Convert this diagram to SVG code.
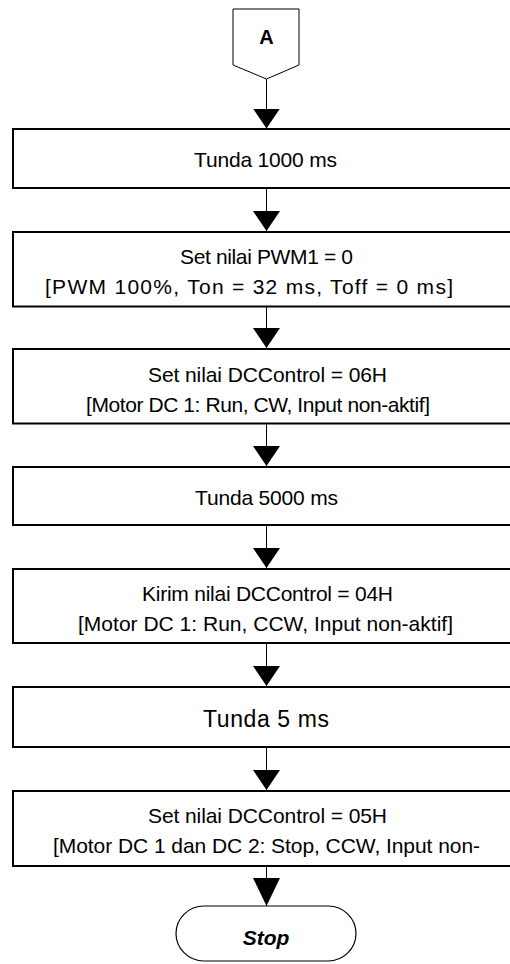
<svg xmlns="http://www.w3.org/2000/svg" width="510" height="964" viewBox="0 0 510 964">
<style>
  .box { fill: #ffffff; stroke: #000000; stroke-width: 2; }
  .term { fill: #ffffff; stroke: #000000; stroke-width: 1.2; }
  .t { font-family: "Liberation Sans", Arial, sans-serif; font-size: 21px; fill: #000000; text-anchor: middle; }
  .big { font-size: 23px; }
  .bold { font-weight: bold; }
  .edge { stroke: #000000; stroke-width: 1; fill: none; }
</style>
<defs>
  <marker id="arr" markerUnits="userSpaceOnUse" viewBox="0 0 20 27" markerWidth="20" markerHeight="27" refX="20" refY="13.5" orient="auto">
    <path d="M0,0 L20,13.5 L0,27 z" fill="#000000"/>
  </marker>
  <marker id="arrL" markerUnits="userSpaceOnUse" viewBox="0 0 28 27" markerWidth="28" markerHeight="27" refX="28" refY="13.5" orient="auto">
    <path d="M0,0 L28,13.5 L0,27 z" fill="#000000"/>
  </marker>
</defs>

<g id="connectors">
  <line class="edge" x1="266.5" y1="79" x2="266.5" y2="128.5" marker-end="url(#arr)"/>
  <line class="edge" x1="266.5" y1="188" x2="266.5" y2="231" marker-end="url(#arr)"/>
  <line class="edge" x1="266.5" y1="306.5" x2="266.5" y2="348" marker-end="url(#arr)"/>
  <line class="edge" x1="266.5" y1="423.5" x2="266.5" y2="466" marker-end="url(#arr)"/>
  <line class="edge" x1="266.5" y1="525" x2="266.5" y2="568" marker-end="url(#arr)"/>
  <line class="edge" x1="266.5" y1="643" x2="266.5" y2="686" marker-end="url(#arr)"/>
  <line class="edge" x1="266.5" y1="747" x2="266.5" y2="790" marker-end="url(#arr)"/>
  <line class="edge" x1="266.5" y1="866" x2="266.5" y2="906" marker-end="url(#arrL)"/>
</g>

<g id="nodeA">
  <polygon points="233,9 299,9 299,65 266.5,79 233,65" fill="#ffffff" stroke="#000000" stroke-width="1"/>
  <text class="t bold" x="266.5" y="43.5" style="font-size:20px">A</text>
</g>

<g id="node1">
  <rect class="box" x="13" y="129" width="507" height="59"/>
  <text class="t" x="265.5" y="167" textLength="143" lengthAdjust="spacing">Tunda 1000 ms</text>
</g>

<g id="node2">
  <rect class="box" x="13" y="232" width="507" height="74.5"/>
  <text class="t" x="266.5" y="264" textLength="173" lengthAdjust="spacing">Set nilai PWM1 = 0</text>
  <text class="t" x="249" y="294" textLength="408" lengthAdjust="spacing">[PWM 100%, Ton = 32 ms, Toff = 0 ms]</text>
</g>

<g id="node3">
  <rect class="box" x="13" y="349" width="507" height="74.5"/>
  <text class="t" x="267.5" y="382" textLength="239" lengthAdjust="spacing">Set nilai DCControl = 06H</text>
  <text class="t" x="258" y="412" textLength="344" lengthAdjust="spacing">[Motor DC 1: Run, CW, Input non-aktif]</text>
</g>

<g id="node4">
  <rect class="box" x="13" y="467" width="507" height="58"/>
  <text class="t" x="266.5" y="505" textLength="143" lengthAdjust="spacing">Tunda 5000 ms</text>
</g>

<g id="node5">
  <rect class="box" x="13" y="569" width="507" height="74"/>
  <text class="t" x="267.5" y="601" textLength="251" lengthAdjust="spacing">Kirim nilai DCControl = 04H</text>
  <text class="t" x="265.5" y="631" textLength="375" lengthAdjust="spacing">[Motor DC 1: Run, CCW, Input non-aktif]</text>
</g>

<g id="node6">
  <rect class="box" x="13" y="687" width="507" height="60"/>
  <text class="t big" x="266" y="727" textLength="126" lengthAdjust="spacing">Tunda 5 ms</text>
</g>

<g id="node7">
  <rect class="box" x="13" y="791" width="507" height="75"/>
  <text class="t" x="267.5" y="823" textLength="239" lengthAdjust="spacing">Set nilai DCControl = 05H</text>
  <text class="t" x="266.5" y="853" textLength="427" lengthAdjust="spacing">[Motor DC 1 dan DC 2: Stop, CCW, Input non-</text>
</g>

<g id="stop">
  <rect class="term" x="176" y="906" width="180" height="55" rx="28" ry="27.5"/>
  <text class="t bold" x="266" y="945" style="font-size:21px;font-style:italic">Stop</text>
</g>
</svg>
